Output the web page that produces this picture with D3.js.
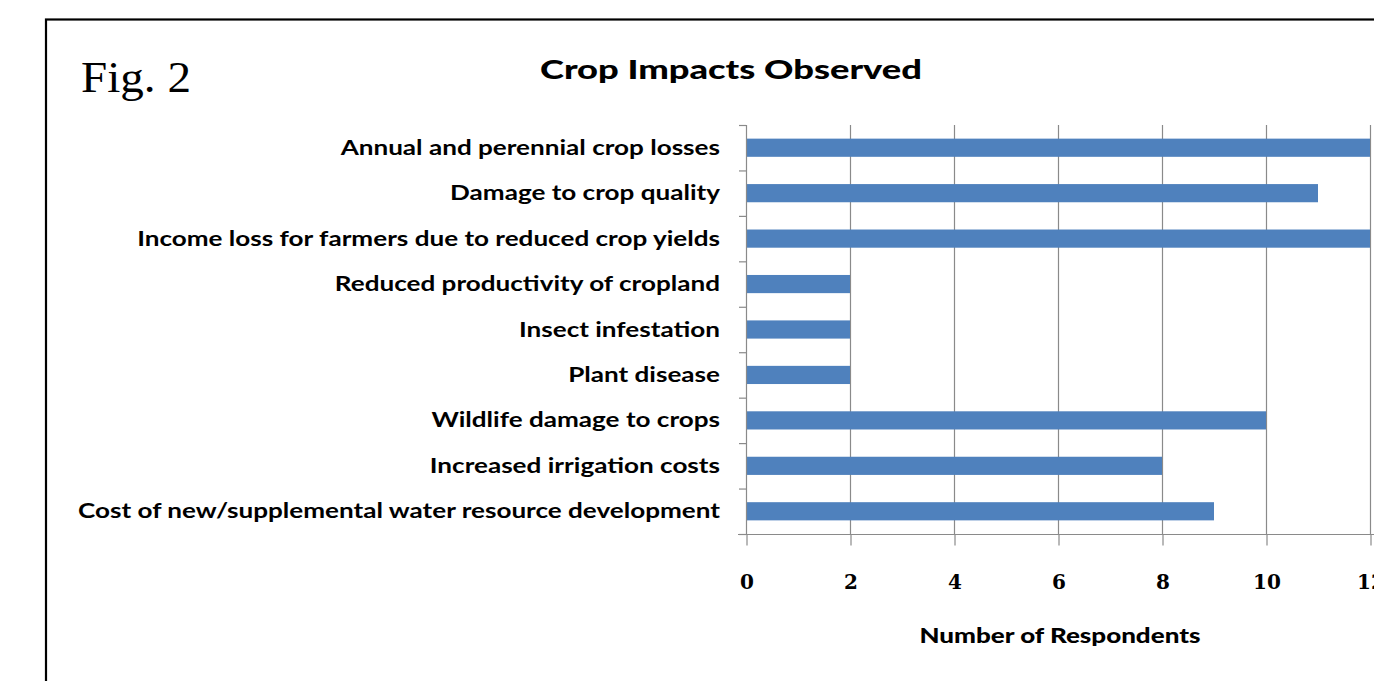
<!DOCTYPE html>
<html>
<head>
<meta charset="utf-8">
<script src="https://cdn.jsdelivr.net/npm/d3@7"></script>
<style>
  html, body { margin: 0; padding: 0; background: #fff; overflow: hidden; }
  svg { display: block; }
</style>
</head>
<body>
<svg id="chart" width="1374" height="681"></svg>
<script>
// Survey responses: crop impacts observed
const categories = [
  "Annual and perennial crop losses",
  "Damage to crop quality",
  "Income loss for farmers due to reduced crop yields",
  "Reduced productivity of cropland",
  "Insect infestation",
  "Plant disease",
  "Wildlife damage to crops",
  "Increased irrigation costs",
  "Cost of new/supplemental water resource development"
];
const respondents = [12, 11, 12, 2, 2, 2, 10, 8, 9];
const xTicks = [0, 2, 4, 6, 8, 10, 12];
const chartTitle = "Crop Impacts Observed";
const figLabel = "Fig. 2";
const xAxisTitle = "Number of Respondents";

const svg = d3.select("#chart");
const W = 1374, H = 681;

// plot area
const plotLeft = 746, plotTop = 125, plotBottom = 534;
const unit = 52; // px per respondent
const x = d3.scaleLinear().domain([0, 14]).range([plotLeft, plotLeft + unit * 14]);
const y = d3.scaleBand().domain(categories).range([plotTop, plotBottom])
  .paddingInner(0.6).paddingOuter(0.3);

svg.append("rect").attr("width", W).attr("height", H).attr("fill", "#fff");

// outer frame
svg.append("rect")
  .attr("x", 46).attr("y", 19.5)
  .attr("width", 1500).attr("height", 800)
  .attr("fill", "none").attr("stroke", "#000").attr("stroke-width", 2.2);

// figure label
svg.append("text")
  .attr("x", 81).attr("y", 92)
  .attr("font-family", "'Liberation Serif', 'Times New Roman', serif")
  .attr("font-size", 44)
  .attr("textLength", 110).attr("lengthAdjust", "spacingAndGlyphs")
  .text(figLabel);

// chart title
svg.append("text")
  .attr("x", 540).attr("y", 79)
  .attr("font-family", "Lato, 'Open Sans', sans-serif")
  .attr("font-weight", 900).attr("font-size", 26)
  .attr("textLength", 382).attr("lengthAdjust", "spacingAndGlyphs")
  .text(chartTitle);

// vertical gridlines
const gridColor = "#8a8a8a";
svg.append("g").selectAll("line")
  .data(xTicks.filter(d => d > 0))
  .join("line")
  .attr("x1", d => x(d) + 0.5).attr("x2", d => x(d) + 0.5)
  .attr("y1", plotTop).attr("y2", plotBottom)
  .attr("stroke", gridColor).attr("stroke-width", 1.2);

// bars
svg.append("g").selectAll("rect")
  .data(categories.map((c, i) => ({ c, v: respondents[i] })))
  .join("rect")
  .attr("x", x(0) + 1)
  .attr("y", d => y(d.c))
  .attr("width", d => x(d.v) - x(0) - 1)
  .attr("height", y.bandwidth())
  .attr("fill", "#4f81bd");

// y axis (category boundaries as ticks)
const yAxis = svg.append("g");
yAxis.append("line")
  .attr("x1", plotLeft + 0.5).attr("x2", plotLeft + 0.5)
  .attr("y1", plotTop).attr("y2", plotBottom)
  .attr("stroke", gridColor).attr("stroke-width", 1.2);
const bandH = (plotBottom - plotTop) / categories.length;
yAxis.selectAll("line.tick")
  .data(d3.range(categories.length + 1))
  .join("line").attr("class", "tick")
  .attr("x1", plotLeft - 7).attr("x2", plotLeft)
  .attr("y1", i => plotTop + i * bandH + 0.5)
  .attr("y2", i => plotTop + i * bandH + 0.5)
  .attr("stroke", gridColor).attr("stroke-width", 1.2);

// category labels, right aligned and fitted to a common condensed width
const labels = svg.append("g").selectAll("text")
  .data(categories)
  .join("text")
  .attr("x", 720)
  .attr("y", d => y(d) + y.bandwidth() / 2 + 7)
  .attr("text-anchor", "end")
  .attr("font-family", "Lato, 'Open Sans', sans-serif")
  .attr("font-weight", 700).attr("font-size", 21)
  .attr("fill", "#000")
  .text(d => d);
const natural = labels.nodes().map(n => n.getComputedTextLength());
const squeeze = 642 / d3.max(natural);
labels.each(function (d, i) {
  d3.select(this).attr("textLength", natural[i] * squeeze)
    .attr("lengthAdjust", "spacingAndGlyphs");
});

// x axis
const xAxis = d3.axisBottom(x).tickValues(xTicks).tickSize(11).tickSizeOuter(0)
  .tickFormat(d3.format("d"));
const xg = svg.append("g").attr("transform", `translate(0.5,${plotBottom + 0.5})`).call(xAxis);
xg.select(".domain").attr("stroke", gridColor).attr("stroke-width", 1.2)
  .attr("d", `M${plotLeft - 8.5},0H${W + 10}`);
xg.selectAll(".tick line").attr("stroke", gridColor).attr("stroke-width", 1.2);
xg.selectAll(".tick text")
  .attr("y", 54).attr("dy", 0)
  .attr("font-family", "'DejaVu Serif', serif")
  .attr("font-weight", 700).attr("font-size", 20)
  .attr("fill", "#000");

// x axis title
svg.append("text")
  .attr("x", 1060).attr("y", 643)
  .attr("text-anchor", "middle")
  .attr("font-family", "Lato, 'Open Sans', sans-serif")
  .attr("font-weight", 900).attr("font-size", 21)
  .attr("textLength", 281).attr("lengthAdjust", "spacingAndGlyphs")
  .text(xAxisTitle);
</script>
</body>
</html>
